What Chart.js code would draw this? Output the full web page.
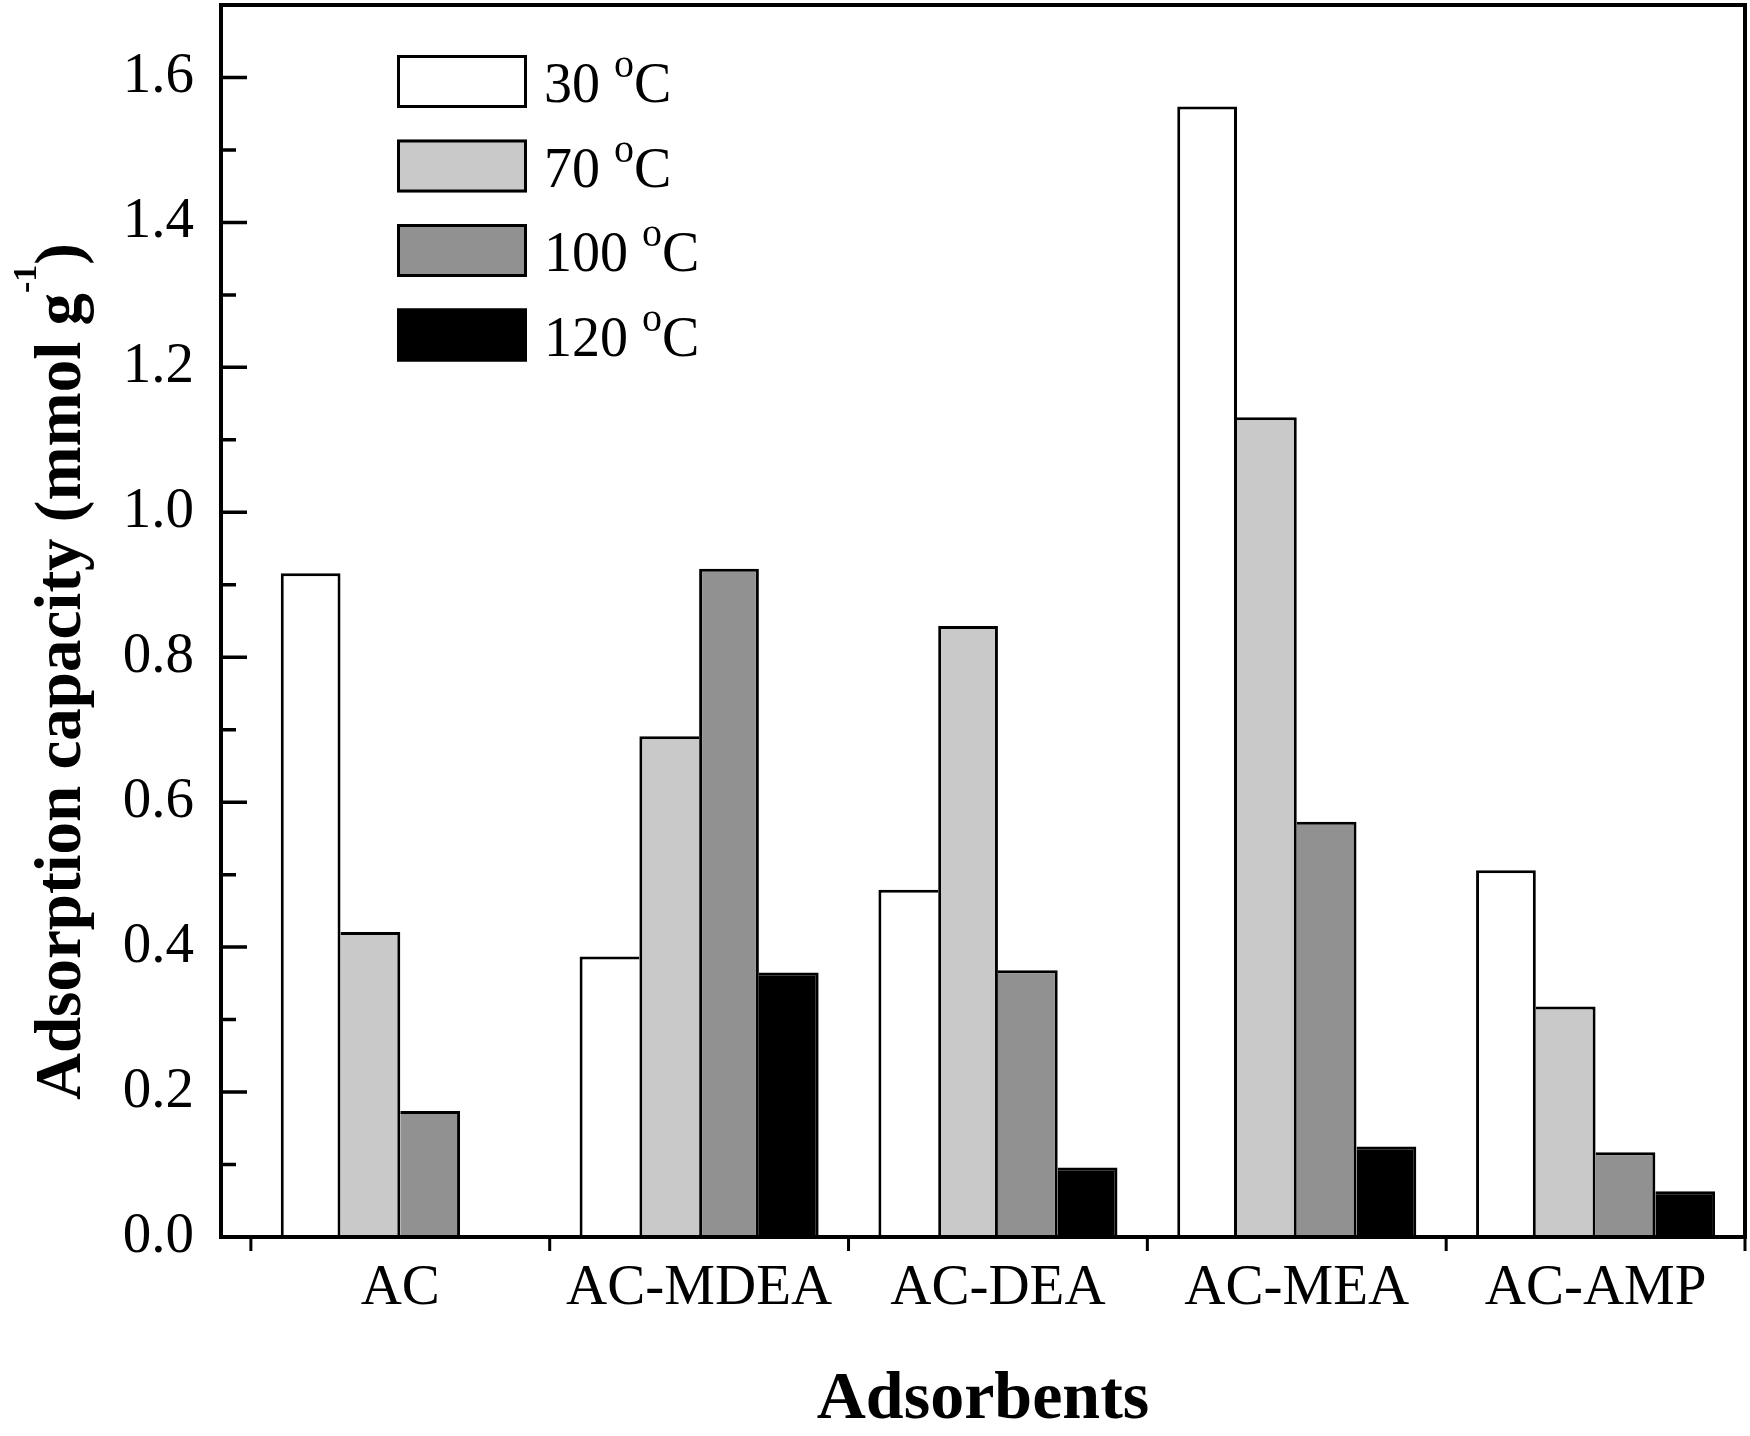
<!DOCTYPE html>
<html>
<head>
<meta charset="utf-8">
<title>Adsorption capacity</title>
<script src="https://cdn.jsdelivr.net/npm/chart.js@4.4.0/dist/chart.umd.min.js"></script>
<style>
  html, body { margin: 0; padding: 0; background: #fff; }
  canvas { display: block; }
</style>
</head>
<body>
<canvas id="adsorptionChart" width="1750" height="1436"></canvas>
<script>
// values (mmol/g)
const adsorbents = ["AC", "AC-MDEA", "AC-DEA", "AC-MEA", "AC-AMP"];
const tempLabels = ["30 °C", "70 °C", "100 °C", "120 °C"];
const cap30 = [0.916, 0.387, 0.479, 1.560, 0.506];
const cap70 = [0.421, 0.691, 0.843, 1.131, 0.318];
const cap100 = [0.174, 0.922, 0.368, 0.573, 0.117];
const cap120 = [null, 0.365, 0.096, 0.125, 0.063];
const yTickVals = [0, 0.2, 0.4, 0.6, 0.8, 1.0, 1.2, 1.4, 1.6];
const yMinorVals = [0.1, 0.3, 0.5, 0.7, 0.9, 1.1, 1.3, 1.5];
const fillColors = ["#ffffff", "#c9c9c9", "#919191", "#000000"];

const FONT = "'Liberation Serif', 'Times New Roman', serif";
const BW = 3;

// shared edge between two bars is drawn by the taller one only
function edgeWidths(ctx) {
  const ds = ctx.chart.data.datasets;
  const i = ctx.dataIndex;
  const d = ctx.datasetIndex;
  const v = ds[d].data[i].y;
  const prev = d > 0 ? ds[d - 1].data[i].y : null;
  const next = d < ds.length - 1 ? ds[d + 1].data[i].y : null;
  return {
    top: BW,
    left: prev != null && prev >= v ? 0 : BW,
    right: next != null && next > v ? 0 : BW,
    bottom: 0
  };
}

const series = [cap30, cap70, cap100, cap120];
const datasets = series.map((vals, k) => ({
  label: tempLabels[k],
  data: vals.map((v, i) => ({ x: i, y: v })),
  backgroundColor: fillColors[k],
  borderColor: "#000",
  borderWidth: edgeWidths,
  borderSkipped: false,
  categoryPercentage: 0.8,
  barPercentage: 1.0
}));

// frame + inward y ticks + outward x ticks
const framePlugin = {
  id: "frame",
  afterDatasetsDraw(chart) {
    const { ctx, chartArea: a, scales } = chart;
    ctx.save();
    ctx.strokeStyle = "#000";
    ctx.lineWidth = 3.5;
    ctx.lineCap = "butt";
    ctx.beginPath();
    yTickVals.forEach((v) => {
      const py = scales.y.getPixelForValue(v);
      ctx.moveTo(a.left, py);
      ctx.lineTo(a.left + 26, py);
    });
    yMinorVals.forEach((v) => {
      const py = scales.y.getPixelForValue(v);
      ctx.moveTo(a.left, py);
      ctx.lineTo(a.left + 15, py);
    });
    ctx.stroke();
    ctx.lineWidth = 3;
    ctx.beginPath();
    for (let i = 0; i <= adsorbents.length; i++) {
      const px = scales.x.getPixelForValue(i - 0.5);
      ctx.moveTo(px, a.bottom);
      ctx.lineTo(px, a.bottom + 14);
    }
    ctx.stroke();
    ctx.lineWidth = 4;
    ctx.strokeRect(a.left, a.top, a.right - a.left, a.bottom - a.top);
    ctx.restore();
  }
};

// legend drawn inside the plot, top left
const legendPlugin = {
  id: "insideLegend",
  afterDraw(chart) {
    const ctx = chart.ctx;
    ctx.save();
    chart.data.datasets.forEach((ds, k) => {
      const top = 55 + k * 84.5;
      ctx.fillStyle = ds.backgroundColor;
      ctx.fillRect(397, top, 130, 53);
      ctx.strokeStyle = "#000";
      ctx.lineWidth = 3;
      ctx.strokeRect(398.5, top + 1.5, 127, 50);
      const parts = ds.label.split("°");
      ctx.fillStyle = "#000";
      ctx.textBaseline = "alphabetic";
      ctx.font = "56px " + FONT;
      let x = 544;
      const base = top + 47;
      ctx.fillText(parts[0], x, base);
      x += ctx.measureText(parts[0]).width;
      ctx.font = "40px " + FONT;
      ctx.fillText("o", x, base - 25);
      x += ctx.measureText("o").width;
      ctx.font = "56px " + FONT;
      ctx.fillText(parts[1], x, base);
    });
    ctx.restore();
  }
};

// axis titles (y title has a superscript)
const titlePlugin = {
  id: "axisTitles",
  afterDraw(chart) {
    const ctx = chart.ctx;
    const a = chart.chartArea;
    ctx.save();
    ctx.fillStyle = "#000";
    ctx.textBaseline = "alphabetic";
    ctx.font = "bold 68px " + FONT;
    ctx.textAlign = "center";
    ctx.fillText("Adsorbents", (a.left + a.right) / 2, 1418);

    ctx.textAlign = "left";
    ctx.translate(80, 1100);
    ctx.rotate(-Math.PI / 2);
    const main = "Adsorption capacity (mmol g";
    ctx.font = "bold 65px " + FONT;
    ctx.fillText(main, 0, 0);
    let x = ctx.measureText(main).width;
    ctx.font = "bold 34px " + FONT;
    ctx.fillText("-1", x, -44);
    x += ctx.measureText("-1").width;
    ctx.font = "bold 65px " + FONT;
    ctx.fillText(")", x, 0);
    ctx.restore();
  }
};

new Chart("adsorptionChart", {
  type: "bar",
  data: { datasets: datasets },
  options: {
    responsive: false,
    animation: false,
    devicePixelRatio: 1,
    layout: { padding: { top: 5, right: 5, left: 0, bottom: 0 } },
    plugins: {
      legend: { display: false },
      tooltip: { enabled: false }
    },
    scales: {
      x: {
        type: "linear",
        offset: false,
        min: -0.6,
        max: 4.5,
        afterBuildTicks: (s) => {
          s.ticks = adsorbents.map((_, i) => ({ value: i }));
        },
        afterFit: (s) => {
          s.height = 199;
          s.paddingLeft = 0;
          s.paddingRight = 0;
        },
        grid: { display: false, drawTicks: false },
        border: { display: false },
        ticks: {
          autoSkip: false,
          maxRotation: 0,
          padding: 18,
          color: "#000",
          font: { family: FONT, size: 57 },
          callback: (v) => adsorbents[v] ?? ""
        }
      },
      y: {
        min: 0,
        max: 1.7,
        afterBuildTicks: (s) => {
          s.ticks = yTickVals.map((v) => ({ value: v }));
        },
        afterFit: (s) => {
          s.width = 221;
          s.paddingTop = 0;
          s.paddingBottom = 0;
        },
        grid: { display: false, drawTicks: false },
        border: { display: false },
        ticks: {
          padding: 27,
          color: "#000",
          font: { family: FONT, size: 57 },
          callback: (v) => v.toFixed(1)
        }
      }
    }
  },
  plugins: [framePlugin, legendPlugin, titlePlugin]
});
</script>
</body>
</html>
